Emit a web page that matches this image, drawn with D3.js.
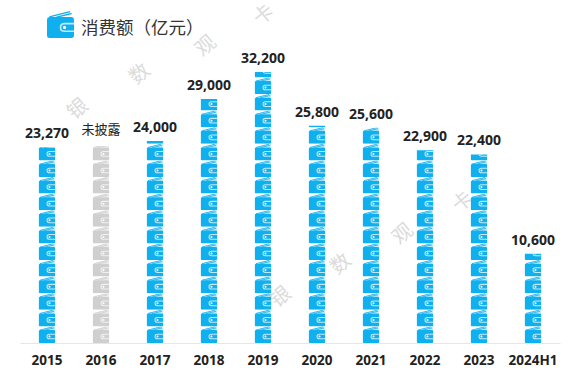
<!DOCTYPE html>
<html>
<head>
<meta charset="utf-8">
<script src="https://cdnjs.cloudflare.com/ajax/libs/d3/7.8.5/d3.min.js"></script>
<style>
  html, body { margin: 0; padding: 0; background: #fff; }
  text { font-family: "Noto Sans", "Noto Sans CJK SC", sans-serif; }
</style>
</head>
<body>
<div id="chart"></div>
<script>
var years = ['2015','2016','2017','2018','2019','2020','2021','2022','2023','2024H1'];
var spend = [23270, 23400, 24000, 29000, 32200, 25800, 25600, 22900, 22400, 10600];
var labels = ['23,270','未披露','24,000','29,000','32,200','25,800','25,600','22,900','22,400','10,600'];
var undisclosed = ['2016'];
var watermarkChars = ['银','数','观','卡'];

var width = 579, height = 392;
var baseY = 343;
var pitch = 16.6;   // one wallet in the stack
var barW = 17;

var svg = d3.select('#chart').append('svg')
    .attr('width', width).attr('height', height)
    .style('display', 'block');

var defs = svg.append('defs');

// wallet drawn in a 34x32 box, used for the stacks and the title icon
function walletSymbol(id, color, pale, band){
    var s = defs.append('symbol').attr('id', id).attr('viewBox', '0 0 34 32')
        .attr('preserveAspectRatio', 'none');
    if (band) {
        s.append('path').attr('d', 'M0 7 L29 0 L34 0 L34 7 Z').attr('fill', band);
    }
    s.append('path').attr('d', 'M3 7 L29 .8').attr('stroke', color).attr('stroke-width', 1.6).attr('fill', 'none');
    s.append('path').attr('d', 'M11 7.5 L31 3').attr('stroke', color).attr('stroke-width', 1.6).attr('fill', 'none');
    s.append('path').attr('d', 'M0 10 Q0 7 3 7 L31 7 Q34 7 34 10 L34 29 Q34 32 31 32 L3 32 Q0 32 0 29 Z').attr('fill', color);
    s.append('path').attr('d', 'M34 14 L22 14 Q16 14 16 19.5 Q16 25 22 25 L34 25 L34 23 L22 23 Q18 23 18 19.5 Q18 16 22 16 L34 16 Z').attr('fill', pale);
    s.append('circle').attr('cx', 22).attr('cy', 19.5).attr('r', 2).attr('fill', '#fff');
}
walletSymbol('wallet-blue', '#10b0ee', '#bfe9f9', '#c4ebfa');
walletSymbol('wallet-grey', '#cfcfcf', '#f0f0f0', '#ececec');
walletSymbol('wallet-icon', '#10b0ee', '#bfe9f9', null);

var x = d3.scaleBand().domain(years).range([20, 560]).padding(0);
var y = d3.scaleLinear().domain([0, 32200]).range([baseY, 72]);

var bars = svg.append('g').selectAll('g')
    .data(years)
    .join('g');

bars.each(function(d, i){
    var g = d3.select(this);
    var cx = x(d) + x.bandwidth() / 2;
    var top = y(spend[i]);
    var h = baseY - top;
    var clipId = 'clip-' + i;
    defs.append('clipPath').attr('id', clipId).append('rect')
        .attr('x', cx - barW / 2).attr('y', top).attr('width', barW).attr('height', h);
    var count = d3.range(Math.ceil(h / pitch));
    var off = undisclosed.includes(d);
    g.append('g').attr('clip-path', 'url(#' + clipId + ')')
        .selectAll('use')
        .data(count)
        .join('use')
        .attr('href', off ? '#wallet-grey' : '#wallet-blue')
        .attr('x', cx - barW / 2)
        .attr('y', k => baseY - pitch * (k + 1))
        .attr('width', barW)
        .attr('height', pitch);

    g.append('text')
        .attr('x', cx)
        .attr('y', top - (off ? 12 : 9))
        .attr('text-anchor', 'middle')
        .attr('font-size', off ? 13 : 14)
        .attr('font-weight', off ? 400 : 700)
        .attr('fill', '#222')
        .text(labels[i]);
});

var axis = svg.append('g')
    .attr('transform', 'translate(0,' + baseY + ')')
    .call(d3.axisBottom(x).tickSize(0).tickPadding(12));
axis.select('.domain').attr('stroke', '#e6e6e6');
axis.selectAll('text')
    .attr('font-size', 13.5)
    .attr('font-weight', 700)
    .attr('fill', '#222')
    .style('font-family', '"Noto Sans", sans-serif');

// title
svg.append('use').attr('href', '#wallet-icon')
    .attr('x', 47).attr('y', 11).attr('width', 27).attr('height', 27);
svg.append('text')
    .attr('x', 81).attr('y', 34)
    .attr('font-size', 17.5)
    .attr('fill', '#333')
    .text('消费额（亿元）');

// watermark, two diagonal runs
var wmRows = [
    [[77,108],[139,73],[205,45],[263,14]],
    [[280,296],[340,263],[402,233],[462,201]]
];
wmRows.forEach(function(row){
    svg.append('g').selectAll('text')
        .data(row)
        .join('text')
        .attr('transform', d => 'translate(' + d[0] + ',' + d[1] + ') rotate(-40)')
        .attr('text-anchor', 'middle')
        .attr('dominant-baseline', 'central')
        .attr('font-size', 20)
        .attr('fill', '#8a8a8a')
        .attr('opacity', .3)
        .text((d, i) => watermarkChars[i]);
});
</script>
</body>
</html>
